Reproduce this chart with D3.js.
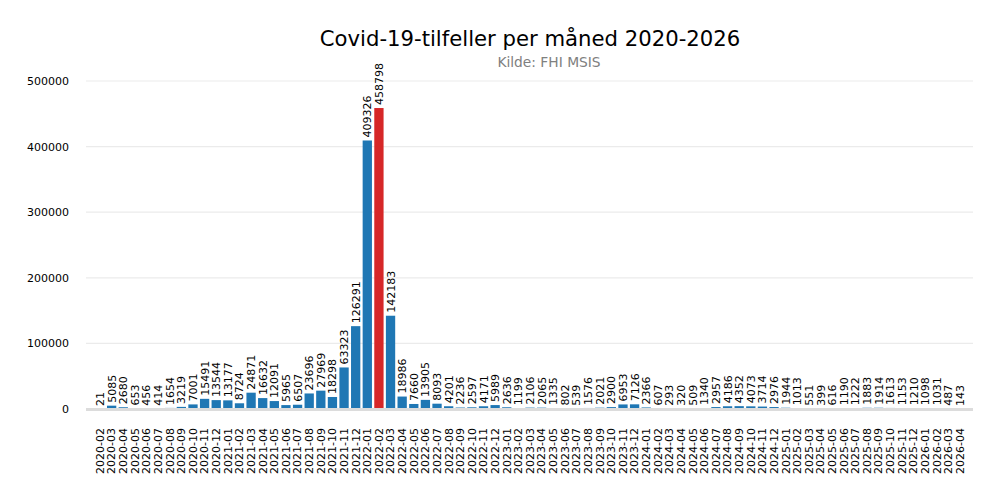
<!DOCTYPE html>
<html>
<head>
<meta charset="utf-8">
<script src="https://cdn.jsdelivr.net/npm/d3@7"></script>
<style>
  html, body { margin: 0; padding: 0; background: #fff; }
  svg { display: block; font-family: "DejaVu Sans", sans-serif; }
</style>
</head>
<body>
<svg id="chart" width="1000" height="500"></svg>
<script>
const months = [
  "2020-02","2020-03","2020-04","2020-05","2020-06","2020-07","2020-08","2020-09","2020-10","2020-11","2020-12",
  "2021-01","2021-02","2021-03","2021-04","2021-05","2021-06","2021-07","2021-08","2021-09","2021-10","2021-11","2021-12",
  "2022-01","2022-02","2022-03","2022-04","2022-05","2022-06","2022-07","2022-08","2022-09","2022-10","2022-11","2022-12",
  "2023-01","2023-02","2023-03","2023-04","2023-05","2023-06","2023-07","2023-08","2023-09","2023-10","2023-11","2023-12",
  "2024-01","2024-02","2024-03","2024-04","2024-05","2024-06","2024-07","2024-08","2024-09","2024-10","2024-11","2024-12",
  "2025-01","2025-02","2025-03","2025-04","2025-05","2025-06","2025-07","2025-08","2025-09","2025-10","2025-11","2025-12",
  "2026-01","2026-02","2026-03","2026-04"
];
const cases = [
  21,5085,2680,653,456,414,1654,3219,7001,15491,13544,
  13177,8724,24871,16632,12091,5965,6507,23696,27969,18298,63323,126291,
  409326,458798,142183,18986,7660,13905,8093,4201,2236,2597,4171,5989,
  2636,1199,2106,2065,1335,802,539,1576,2021,2900,6953,7126,
  2366,607,293,320,509,1340,2957,4186,4352,4073,3714,2976,
  1944,1013,551,399,616,1190,1222,1883,1914,1613,1153,1210,
  1098,1031,487,143
];
const yTicks = [0, 100000, 200000, 300000, 400000, 500000];
const titleText = "Covid-19-tilfeller per måned 2020-2026";
const subtitleText = "Kilde: FHI MSIS";

const svg = d3.select("#chart");
const plotL = 86, plotR = 973;

const x = d3.scaleBand().domain(months).range([94.2, 965.8]).paddingInner(0.2).paddingOuter(0.1);
const y = d3.scaleLinear().domain([0, 500000]).range([409, 81]);
const maxVal = d3.max(cases);

// gridlines
svg.append("g").selectAll("line").data(yTicks.filter(d => d > 0)).join("line")
  .attr("x1", plotL).attr("x2", plotR)
  .attr("y1", d => y(d)).attr("y2", d => y(d))
  .attr("stroke", "#ebebeb").attr("stroke-width", 1.2);

// y tick labels
const yAxis = d3.axisLeft(y).tickValues(yTicks).tickFormat(d3.format("d")).tickSize(0).tickPadding(0);
const yg = svg.append("g").attr("transform", "translate(69,0)").call(yAxis);
yg.select(".domain").remove();
yg.selectAll("text").attr("font-size", 11).attr("fill", "#000").attr("font-family", "DejaVu Sans");

const data = months.map((m, i) => ({ m, v: cases[i] }));

// bars
svg.append("g").selectAll("rect").data(data).join("rect")
  .attr("x", d => x(d.m))
  .attr("width", x.bandwidth())
  .attr("y", d => y(d.v))
  .attr("height", d => y(0) - y(d.v))
  .attr("fill", d => d.v === maxVal ? "#d62728" : "#1f77b4");

// zero line
svg.append("line")
  .attr("x1", plotL).attr("x2", plotR)
  .attr("y1", y(0) + 0.5).attr("y2", y(0) + 0.5)
  .attr("stroke", "#dcdcdc").attr("stroke-width", 3);

// bar value labels
svg.append("g").selectAll("text").data(data).join("text")
  .attr("transform", d => `translate(${x(d.m) + x.bandwidth() / 2 + 4},${y(d.v) - 3}) rotate(-90)`)
  .attr("text-anchor", "start")
  .attr("font-size", 11)
  .attr("fill", "#000")
  .text(d => d.v);

// x tick labels
const xAxis = d3.axisBottom(x).tickSize(0).tickPadding(0);
const xg = svg.append("g").attr("transform", "translate(0,428)").call(xAxis);
xg.select(".domain").remove();
xg.selectAll("text")
  .attr("transform", "rotate(-90)")
  .attr("text-anchor", "end")
  .attr("x", 0).attr("y", 0).attr("dy", "0.35em")
  .attr("font-size", 11).attr("fill", "#000").attr("font-family", "DejaVu Sans");

// title
svg.append("text").attr("x", 530).attr("y", 46).attr("text-anchor", "middle")
  .attr("font-size", 21.2).attr("fill", "#000").text(titleText);
svg.append("text").attr("x", 549).attr("y", 67).attr("text-anchor", "middle")
  .attr("font-size", 13.8).attr("fill", "#808080").text(subtitleText);
</script>
</body>
</html>
